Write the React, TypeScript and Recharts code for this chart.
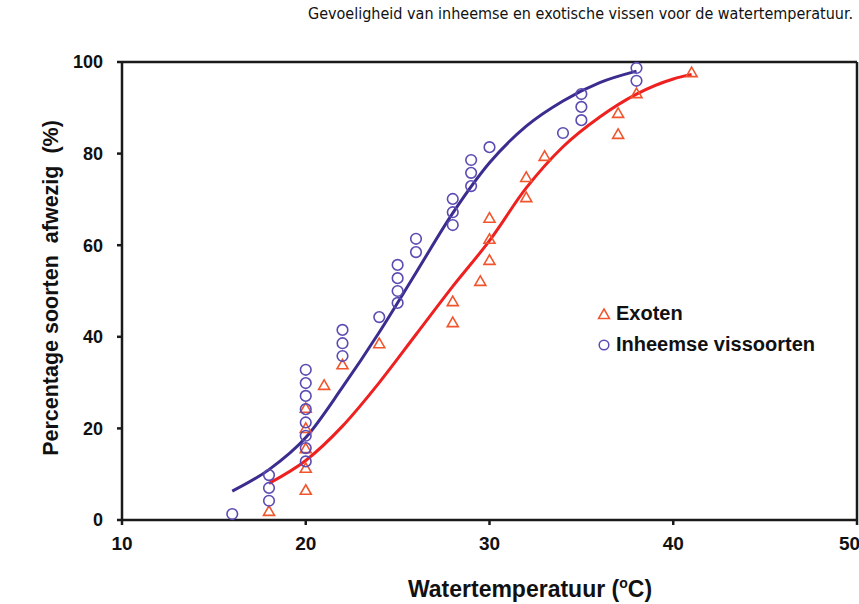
import {
  ComposedChart,
  Scatter,
  Line,
  XAxis,
  YAxis,
  ReferenceLine,
  Label,
} from "recharts";

const exotenPoints = [
  { x: 18, y: 2 },
  { x: 20, y: 6.6 }, { x: 20, y: 11.4 }, { x: 20, y: 15.7 }, { x: 20, y: 20.1 }, { x: 20, y: 24.5 },
  { x: 21, y: 29.5 },
  { x: 22, y: 34 },
  { x: 24, y: 38.6 },
  { x: 28, y: 43.2 }, { x: 28, y: 47.8 },
  { x: 29.5, y: 52.2 },
  { x: 30, y: 56.8 }, { x: 30, y: 61.4 }, { x: 30, y: 66 },
  { x: 32, y: 70.5 }, { x: 32, y: 74.9 },
  { x: 33, y: 79.5 },
  { x: 37, y: 84.3 }, { x: 37, y: 88.9 },
  { x: 38, y: 93.2 },
  { x: 41, y: 97.8 },
];

const inheemsePoints = [
  { x: 16, y: 1.3 },
  { x: 18, y: 4.2 }, { x: 18, y: 7 }, { x: 18, y: 9.8 },
  { x: 20, y: 12.8 }, { x: 20, y: 15.7 }, { x: 20, y: 18.4 }, { x: 20, y: 21.3 },
  { x: 20, y: 24.2 }, { x: 20, y: 27.1 }, { x: 20, y: 29.9 }, { x: 20, y: 32.8 },
  { x: 22, y: 35.8 }, { x: 22, y: 38.6 }, { x: 22, y: 41.5 },
  { x: 24, y: 44.3 },
  { x: 25, y: 47.4 }, { x: 25, y: 50 }, { x: 25, y: 52.8 }, { x: 25, y: 55.7 },
  { x: 26, y: 58.5 }, { x: 26, y: 61.4 },
  { x: 28, y: 64.4 }, { x: 28, y: 67.2 }, { x: 28, y: 70.1 },
  { x: 29, y: 72.9 }, { x: 29, y: 75.8 }, { x: 29, y: 78.6 },
  { x: 30, y: 81.4 },
  { x: 34, y: 84.5 },
  { x: 35, y: 87.3 }, { x: 35, y: 90.2 }, { x: 35, y: 93 },
  { x: 38, y: 95.9 }, { x: 38, y: 98.7 },
];

// fitted curves
const exotenCurve = [
  { x: 18, y: 8 }, { x: 20, y: 13 }, { x: 22, y: 20.5 }, { x: 24, y: 30 },
  { x: 26, y: 40.5 }, { x: 28, y: 51 }, { x: 30, y: 61 }, { x: 32, y: 72.5 },
  { x: 34, y: 81.5 }, { x: 36, y: 88 }, { x: 38, y: 93 }, { x: 40, y: 96.3 },
  { x: 41, y: 97.3 },
];

const inheemseCurve = [
  { x: 16, y: 6.3 }, { x: 18, y: 11 }, { x: 20, y: 18 }, { x: 22, y: 29 },
  { x: 24, y: 41 }, { x: 26, y: 54 }, { x: 28, y: 67 }, { x: 30, y: 78 },
  { x: 32, y: 86 }, { x: 34, y: 91.5 }, { x: 36, y: 95.5 }, { x: 38, y: 98 },
];

const tempTicks = [10, 20, 30, 40, 50];
const pctTicks = [0, 20, 40, 60, 80, 100];

const TRI = "#f0552d";
const CIRC = "#5a4cb2";
const font = "'Liberation Sans', Arial, sans-serif";

const Triangle = (props: any) => {
  const { cx, cy } = props;
  if (cx == null || cy == null) return null;
  return (
    <path
      d={`M${cx},${cy - 5} L${cx + 5.5},${cy + 4.5} L${cx - 5.5},${cy + 4.5} Z`}
      fill="none"
      stroke={TRI}
      strokeWidth={1.6}
    />
  );
};

const Circle = (props: any) => {
  const { cx, cy } = props;
  if (cx == null || cy == null) return null;
  return <circle cx={cx} cy={cy} r={5.3} fill="none" stroke={CIRC} strokeWidth={1.6} />;
};

export default function App() {
  return (
    <div style={{ position: "absolute", left: 0, top: 0, width: 859, height: 604, background: "#fff" }}>
      <div
        style={{
          position: "absolute",
          right: 6,
          top: 4,
          fontFamily: "'Liberation Sans Narrow', 'DejaVu Sans Condensed', sans-serif",
          fontSize: 16,
          lineHeight: "20px",
          color: "#111",
          whiteSpace: "nowrap",
        }}
      >
        Gevoeligheid van inheemse en exotische vissen voor de watertemperatuur.
      </div>
      <div style={{ position: "absolute", left: 0, top: 0 }}>
        <ComposedChart width={859} height={604} margin={{ top: 62, right: 2, bottom: 0, left: 0 }}>
          <XAxis
            type="number"
            dataKey="x"
            domain={[10, 50]}
            ticks={tempTicks}
            height={84}
            stroke="#1a1a1a"
            strokeWidth={2.5}
            tickSize={5}
            tickMargin={12}
            tick={{ fill: "#111", fontSize: 19, fontWeight: 700, fontFamily: font }}
          >
            <Label
              content={() => (
                <text x={530} y={597} textAnchor="middle" fontFamily={font} fontWeight={700} fontSize={23} fill="#111">
                  Watertemperatuur (
                  <tspan fontSize={14} dy={-9}>o</tspan>
                  <tspan dy={9}>C)</tspan>
                </text>
              )}
            />
          </XAxis>
          <YAxis
            type="number"
            dataKey="y"
            domain={[0, 100]}
            ticks={pctTicks}
            width={122}
            stroke="#1a1a1a"
            strokeWidth={2.5}
            tickSize={5}
            tickMargin={14}
            tick={{ fill: "#111", fontSize: 18, fontWeight: 700, fontFamily: font }}
          >
            <Label
              content={() => (
                <text
                  x={58}
                  y={288}
                  transform="rotate(-90 58 288)"
                  textAnchor="middle"
                  fontFamily={font}
                  fontWeight={700}
                  fontSize={21.5}
                  fill="#111"
                  style={{ whiteSpace: "pre" }}
                >
                  {"Percentage soorten  afwezig  (%)"}
                </text>
              )}
            />
          </YAxis>
          <ReferenceLine y={100} stroke="#1a1a1a" strokeWidth={2.5} />
          <ReferenceLine x={50} stroke="#1a1a1a" strokeWidth={2.5} />
          <Scatter name="Exoten" data={exotenPoints} dataKey="y" shape={Triangle} isAnimationActive={false} />
          <Scatter name="Inheemse vissoorten" data={inheemsePoints} dataKey="y" shape={Circle} isAnimationActive={false} />
          <Line
            data={inheemseCurve}
            dataKey="y"
            type="monotone"
            stroke="#3a2d8f"
            strokeWidth={3}
            dot={false}
            legendType="none"
            isAnimationActive={false}
          />
          <Line
            data={exotenCurve}
            dataKey="y"
            type="monotone"
            stroke="#ee2020"
            strokeWidth={3}
            dot={false}
            legendType="none"
            isAnimationActive={false}
          />
        </ComposedChart>
      </div>
      <div
        style={{
          position: "absolute",
          left: 597,
          top: 298,
          fontFamily: font,
          fontWeight: 700,
          fontSize: 20,
          color: "#111",
          lineHeight: "31px",
        }}
      >
        <div style={{ display: "flex", alignItems: "center" }}>
          <svg width={14} height={14} style={{ marginRight: 5 }}>
            <path d="M7,2 L12.5,11.5 L1.5,11.5 Z" fill="none" stroke={TRI} strokeWidth={1.5} />
          </svg>
          Exoten
        </div>
        <div style={{ display: "flex", alignItems: "center" }}>
          <svg width={14} height={14} style={{ marginRight: 5 }}>
            <circle cx={7} cy={7} r={4.8} fill="none" stroke={CIRC} strokeWidth={1.5} />
          </svg>
          Inheemse vissoorten
        </div>
      </div>
    </div>
  );
}
